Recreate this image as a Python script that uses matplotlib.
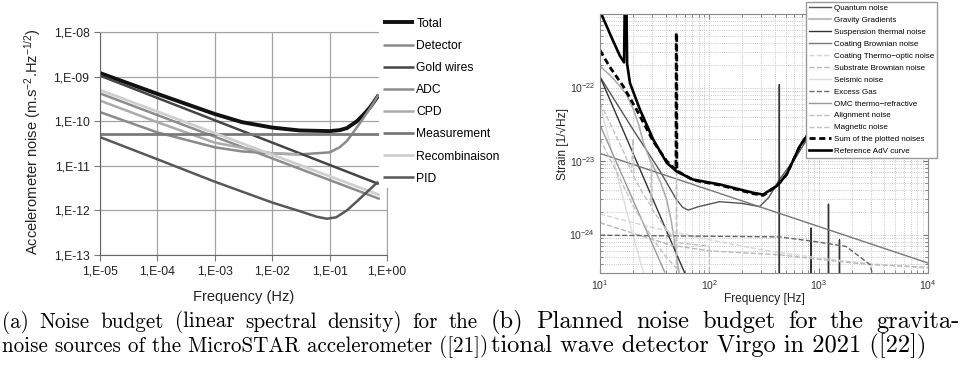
import matplotlib
matplotlib.use("Agg")
import numpy as np
import matplotlib.pyplot as plt
from matplotlib.ticker import LogLocator, FuncFormatter, NullFormatter

plt.rcParams['font.family'] = ['Liberation Sans', 'DejaVu Sans']
plt.rcParams['mathtext.fontset'] = 'custom'
plt.rcParams['mathtext.rm'] = 'Liberation Sans'
plt.rcParams['mathtext.it'] = 'Liberation Sans:italic'

# --- (a) MicroSTAR accelerometer noise budget ---
TOTAL_F = [1e-5, 1e-4, 1e-3, 3e-3, 1e-2, 3e-2, 0.1, 0.15, 0.2, 0.3, 0.4, 0.5, 0.72]
TOTAL_V = [1.2e-9, 4.1e-10, 1.45e-10, 9.5e-11, 7.2e-11, 6.2e-11, 6.0e-11, 6.3e-11, 7.0e-11, 1.0e-10, 1.45e-10, 2.0e-10, 3.9e-10]
DETECTOR_F = [1e-5, 1e-4, 1e-3, 3e-3, 1e-2, 3e-2, 0.1, 0.15, 0.2, 0.3, 0.4, 0.5, 0.72]
DETECTOR_V = [1.6e-10, 5.6e-11, 2.6e-11, 2.1e-11, 1.9e-11, 1.8e-11, 2.0e-11, 2.6e-11, 3.6e-11, 7.3e-11, 1.25e-10, 1.9e-10, 4.0e-10]
GOLD_F = [1e-5, 0.72]
GOLD_V = [1.05e-9, 3.9e-12]
ADC_F = [1e-5, 0.75]
ADC_V = [4.2e-10, 1.8e-12]
CPD_F = [1e-5, 1e-4, 1e-3, 1e-2, 3e-2]
CPD_V = [2.9e-10, 9.5e-11, 3.3e-11, 1.9e-11, 1.8e-11]
MEAS_F = [1e-5, 0.75]
MEAS_V = [5.2e-11, 5.2e-11]
RECOMB_F = [1e-5, 0.75]
RECOMB_V = [5.0e-10, 2.2e-12]
PID_F = [1e-5, 1e-4, 1e-3, 1e-2, 0.031, 0.06, 0.09, 0.13, 0.2, 0.3, 0.45, 0.7]
PID_V = [4.4e-11, 1.4e-11, 4.4e-12, 1.5e-12, 9.5e-13, 7.2e-13, 6.5e-13, 7.0e-13, 1.0e-12, 1.6e-12, 2.6e-12, 4.4e-12]

LEFT_SERIES = [
    ("Total", TOTAL_F, TOTAL_V, "#111111", 2.8),
    ("Detector", DETECTOR_F, DETECTOR_V, "#8a8a8a", 1.8),
    ("Gold wires", GOLD_F, GOLD_V, "#454545", 1.8),
    ("ADC", ADC_F, ADC_V, "#8c8c8c", 1.8),
    ("CPD", CPD_F, CPD_V, "#ababab", 1.8),
    ("Measurement", MEAS_F, MEAS_V, "#7a7a7a", 2.0),
    ("Recombinaison", RECOMB_F, RECOMB_V, "#cfcfcf", 2.0),
    ("PID", PID_F, PID_V, "#585858", 1.8),
]

# --- (b) Virgo 2021 noise budget ---
QN_F = [10, 20, 35, 50, 57, 64, 80, 124, 200, 288, 350, 437, 600, 770, 1500]
QN_V = [1.4e-22, 2.7e-23, 7.5e-24, 3.0e-24, 2.35e-24, 2.15e-24, 2.4e-24, 2.8e-24, 2.65e-24, 2.4e-24, 3.2e-24, 5.6e-24, 1.05e-23, 1.9e-23, 6e-23]
GG_F = [10, 12.5, 15.2, 17.5, 20.2, 22.5, 24.9, 28.6, 31.8, 36, 40.7, 45, 48.5, 52, 56]
GG_V = [1.95e-22, 1.45e-22, 1.04e-22, 8e-23, 5e-23, 3.2e-23, 1.8e-23, 1.05e-23, 7.6e-24, 5e-24, 3e-24, 1.5e-24, 7e-25, 3.5e-25, 2e-25]
ST_F = [10, 59, 100, 436, 437, 438, 852, 853, 854, 1229, 1230, 1231, 1549, 1550, 1551]
ST_V = [1.4e-22, 3.1e-25, 5e-26, 1e-27, 1.1e-22, 1e-27, 1e-28, 1.23e-24, 1e-28, 1e-28, 2.6e-24, 1e-28, 1e-28, 8.5e-25, 1e-28]
CB_F = [10, 10000]
CB_V = [1.27e-23, 4.1e-25]
CTO_F = [10, 30, 100, 300, 1000, 3000, 10000]
CTO_V = [1.9e-24, 1.25e-24, 8.5e-25, 6.2e-25, 4.8e-25, 4e-25, 3.5e-25]
SB_F = [10, 44, 100, 444, 1000, 2950, 10000]
SB_V = [1.45e-24, 7.2e-25, 6e-25, 5.3e-25, 4.6e-25, 3.9e-25, 3.6e-25]
SE_F = [10, 12, 15, 20, 25]
SE_V = [6e-23, 2e-23, 5e-24, 1e-24, 3e-25]
EG_F = [10, 437, 890, 1780, 2950, 3300]
EG_V = [9.8e-25, 9.3e-25, 8.1e-25, 6.9e-25, 3.9e-25, 2e-25]
OMC_F = [10, 39]
OMC_V = [3.1e-23, 3.1e-25]
AL_F = [10, 13, 17, 19.5, 20, 20.5, 25, 29, 29.5, 30, 40, 48, 53, 100, 100.2]
AL_V = [6.2e-23, 2.8e-23, 1.2e-23, 7e-24, 2e-23, 6e-24, 3.5e-24, 2.5e-24, 1e-23, 2.2e-24, 1.2e-24, 8.5e-25, 7.7e-25, 6.9e-25, 1e-26]
MG_F = [10, 15, 20, 30, 40, 49.8, 50, 50.3, 50.5, 60]
MG_V = [2e-23, 6e-24, 2.5e-24, 9e-25, 5e-25, 3.5e-25, 5.5e-22, 5.5e-22, 3.5e-25, 2e-25]
SUM_F = [10, 12.3, 16.3, 21.6, 30.7, 40.7, 49.5, 49.8, 50.3, 50.5, 71, 125, 252, 310, 416, 510, 673, 900, 1500, 3000]
SUM_V = [3.2e-22, 1.9e-22, 1.04e-22, 5e-23, 1.85e-23, 1.0e-23, 7.6e-24, 5.5e-22, 5.5e-22, 7.4e-24, 5.5e-24, 4.7e-24, 3.6e-24, 3.4e-24, 4.6e-24, 6.6e-24, 1.6e-23, 3e-23, 8e-23, 3e-22]
ADV_F = [10, 13, 15.2, 16.6, 16.9, 17.4, 17.7, 18.8, 23.2, 30.7, 40.7, 50.3, 71, 125, 252, 310, 416, 510, 673, 900, 1500, 3000]
ADV_V = [1.1e-21, 4.5e-22, 2.7e-22, 2.2e-22, 2e-21, 2e-21, 2.1e-22, 1.15e-22, 5e-23, 1.96e-23, 9.5e-24, 7.2e-24, 5.6e-24, 4.8e-24, 3.7e-24, 3.5e-24, 4.6e-24, 6.6e-24, 1.6e-23, 3e-23, 8e-23, 3e-22]

RIGHT_SERIES = [
    ("Quantum noise", QN_F, QN_V, "#555555", "-", 1.0),
    ("Gravity Gradients", GG_F, GG_V, "#aaaaaa", "-", 1.1),
    ("Suspension thermal noise", ST_F, ST_V, "#333333", "-", 1.0),
    ("Coating Brownian noise", CB_F, CB_V, "#777777", "-", 1.0),
    ("Coating Thermo\u2212optic noise", CTO_F, CTO_V, "#d6d6d6", "--", 1.0),
    ("Substrate Brownian noise", SB_F, SB_V, "#b8b8b8", "--", 1.0),
    ("Seismic noise", SE_F, SE_V, "#dddddd", "-", 1.0),
    ("Excess Gas", EG_F, EG_V, "#666666", "--", 1.0),
    ("OMC thermo\u2212refractive", OMC_F, OMC_V, "#999999", "-", 1.0),
    ("Alignment noise", AL_F, AL_V, "#c2c2c2", "--", 1.0),
    ("Magnetic noise", MG_F, MG_V, "#c2c2c2", "--", 1.0),
    ("Sum of the plotted noises", SUM_F, SUM_V, "#000000", (0, (2.2, 1.3)), 2.0),
    ("Reference AdV curve", ADV_F, ADV_V, "#000000", "-", 1.9),
]

CAPTION_A = ["(a) Noise budget (linear spectral density) for the",
             "noise sources of the MicroSTAR accelerometer ([21])"]
CAPTION_B = ["(b) Planned noise budget for the gravita-",
             "tional wave detector Virgo in 2021 ([22])"]

W, H = 964, 372
fig = plt.figure(figsize=(W / 100, H / 100), dpi=100)


def justified(fig, line, x0, x1, y, size):
    """spread the words of one caption line over x0..x1 (pixels), like LaTeX does"""
    r = fig.canvas.get_renderer()
    words = line.split(" ")
    texts = [fig.text(0, 1 - y / H, w, family="cmr10", fontsize=size, va="center")
             for w in words]
    widths = [t.get_window_extent(r).width for t in texts]
    gap = (x1 - x0 - sum(widths)) / (len(words) - 1)
    x = x0
    for t, w in zip(texts, widths):
        t.set_x(x / W)
        x += w + gap


# ---------- left panel ----------
ax1 = fig.add_axes([100 / W, 1 - 255 / H, 287 / W, 223 / H])
lh = []
for name, f, v, c, lw in LEFT_SERIES:
    ln, = ax1.plot(f, v, color=c, lw=lw, label=name, solid_capstyle="butt")
    lh.append(ln)
ax1.set_xscale("log")
ax1.set_yscale("log")
ax1.set_xlim(1e-5, 1)
ax1.set_ylim(1e-13, 1e-8)
ax1.xaxis.set_major_locator(LogLocator(base=10, numticks=10))
ax1.yaxis.set_major_locator(LogLocator(base=10, numticks=10))
ax1.xaxis.set_minor_locator(LogLocator(base=10, subs=[], numticks=10))
ax1.yaxis.set_minor_locator(LogLocator(base=10, subs=[], numticks=10))
fmt = FuncFormatter(lambda x, p: "1,E%+03d" % int(round(np.log10(x))))
ax1.xaxis.set_major_formatter(fmt)
ax1.yaxis.set_major_formatter(fmt)
ax1.grid(True, which="major", color="#a3a3a3", lw=0.9)
ax1.set_axisbelow(True)
ax1.tick_params(direction="out", length=4, color="#777777", labelsize=8.8, labelcolor="#222222")
for s in ["left", "bottom"]:
    ax1.spines[s].set_color("#666666")
for s in ["top", "right"]:
    ax1.spines[s].set_color("#a3a3a3")
ax1.set_xlabel("Frequency (Hz)", fontsize=10.5, color="#222222")
ax1.xaxis.set_label_coords(0.5, -0.155)
ax1.set_ylabel(r"Accelerometer noise (m.s$^{\mathregular{-2}}$.Hz$^{\mathregular{-1/2}}$)",
               fontsize=10.5, color="#222222")
ax1.yaxis.set_label_coords(-0.2, 0.51)

fig.legend(lh, [s[0] for s in LEFT_SERIES], loc="upper left",
           bbox_to_anchor=(379 / W, 1 - 14 / H), borderaxespad=0, borderpad=0.3,
           fontsize=8.7, frameon=True, facecolor="white", edgecolor="none",
           framealpha=1, handlelength=2.6, handletextpad=0.2, labelspacing=0.84)

# ---------- right panel ----------
ax2 = fig.add_axes([600 / W, 1 - 273 / H, 328 / W, 259 / H])
rh = []
for name, f, v, c, ls, lw in RIGHT_SERIES:
    ln, = ax2.plot(f, v, color=c, ls=ls, lw=lw, label=name)
    rh.append(ln)
ax2.set_xscale("log")
ax2.set_yscale("log")
ax2.set_xlim(10, 1e4)
ax2.set_ylim(3e-25, 1e-21)
ax2.set_yticks([1e-24, 1e-23, 1e-22])
ax2.yaxis.set_minor_formatter(NullFormatter())
ax2.grid(True, which="both", color="#b5b5b5", ls=":", lw=0.6)
ax2.set_axisbelow(True)
ax2.tick_params(which="both", direction="in", top=True, right=True, color="#777777",
                labelsize=7.5, labelcolor="#333333")
ax2.tick_params(which="major", length=3.5)
ax2.tick_params(which="minor", length=2)
for s in ax2.spines.values():
    s.set_color("#8a8a8a")
    s.set_linewidth(0.8)
ax2.set_xlabel("Frequency [Hz]", fontsize=8.6, color="#222222")
ax2.xaxis.set_label_coords(0.5, -0.077)
ax2.set_ylabel("Strain [1/\u221aHz]", fontsize=8.6, color="#222222")
ax2.yaxis.set_label_coords(-0.095, 0.5)

fig.legend(rh, [s[0] for s in RIGHT_SERIES], loc="lower left",
           bbox_to_anchor=(806 / W, 1 - 158 / H), borderaxespad=0, borderpad=0.35,
           fontsize=5.8, frameon=True, fancybox=False, facecolor="white",
           edgecolor="#9a9a9a", framealpha=1, handlelength=2.8, handletextpad=0.35,
           labelspacing=0.53)

# ---------- captions ----------
justified(fig, CAPTION_A[0], 2, 478, 322, 15.2)
fig.text(2 / W, 1 - 346 / H, CAPTION_A[1], family="cmr10", fontsize=15.2, va="center")
justified(fig, CAPTION_B[0], 491, 960, 322, 17.6)
fig.text(491 / W, 1 - 346 / H, CAPTION_B[1], family="cmr10", fontsize=17.6, va="center")

fig.savefig("out.png", dpi=100)
